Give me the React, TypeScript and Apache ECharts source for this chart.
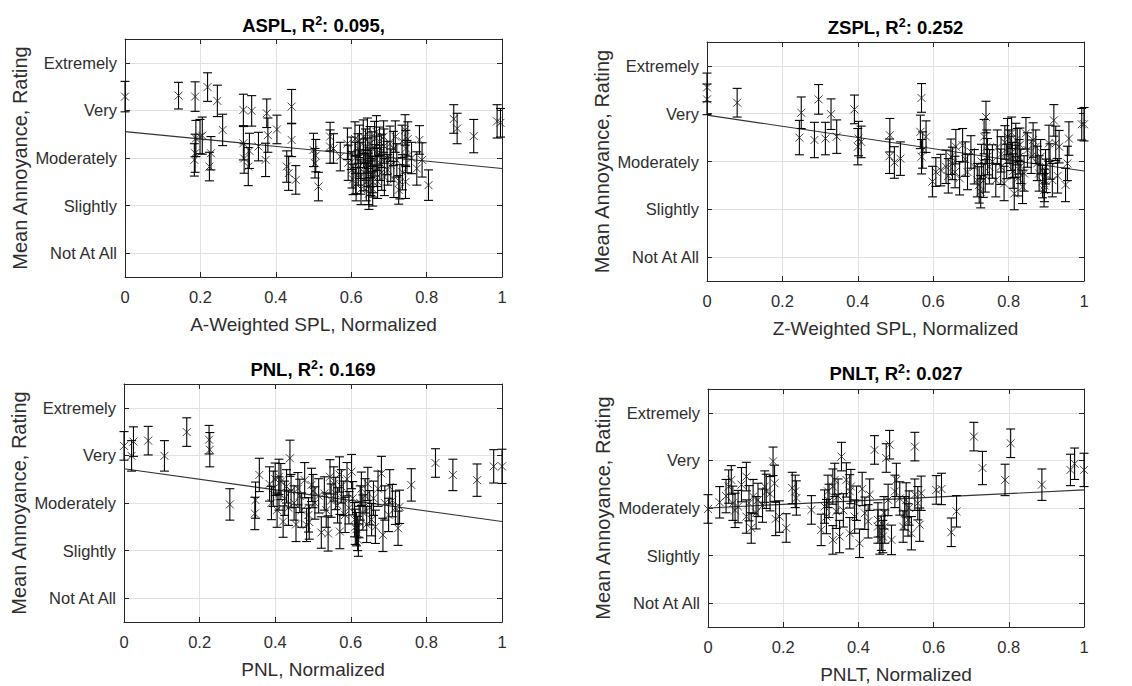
import React, { useEffect, useRef } from 'react';
import * as echarts from 'echarts';

const ratingValues = [1, 2, 3, 4, 5];
const ratingLabels = ['Not At All', 'Slightly', 'Moderately', 'Very', 'Extremely'];
const panelNames = ['ASPL', 'ZSPL', 'PNL', 'PNLT'];
const panelR2 = ['0.095,', '0.252', '0.169', '0.027'];
const xAxisNames = ['A-Weighted SPL, Normalized', 'Z-Weighted SPL, Normalized', 'PNL, Normalized', 'PNLT, Normalized'];
const yAxisName = 'Mean Annoyance, Rating';

// fitted line values at x = 0 and x = 1
const asplFit = [3.555, 2.78];
const zsplFit = [3.97, 2.8];
const pnlFit = [3.72, 2.61];
const pnltFit = [3.0, 3.38];

// [normalized metric, mean annoyance, error half-width]
const asplData = [
  [0, 4.29, 0.32], [0.142, 4.31, 0.28], [0.186, 4.29, 0.31], [0.219, 4.49, 0.3], [0.245, 4.2, 0.33],
  [0.188, 3.41, 0.38], [0.186, 3.1, 0.4], [0.184, 2.96, 0.34], [0.199, 3.45, 0.36], [0.205, 3.47, 0.39],
  [0.224, 2.82, 0.3], [0.228, 3.1, 0.35], [0.259, 3.59, 0.33], [0.314, 4.01, 0.33], [0.336, 3.99, 0.32],
  [0.376, 3.94, 0.3], [0.379, 3.48, 0.36], [0.314, 3.31, 0.35], [0.316, 2.99, 0.31], [0.327, 2.82, 0.4],
  [0.33, 3.15, 0.37], [0.354, 3.24, 0.3], [0.373, 2.96, 0.35], [0.403, 3.6, 0.3], [0.442, 4.08, 0.36],
  [0.442, 3.38, 0.35], [0.429, 2.82, 0.33], [0.434, 2.68, 0.36], [0.453, 2.54, 0.3], [0.5, 3.17, 0.35],
  [0.504, 2.89, 0.31], [0.506, 3.05, 0.34], [0.513, 2.4, 0.3], [0.544, 3.45, 0.3], [0.544, 3.24, 0.35],
  [0.553, 3.2, 0.31], [0.571, 3.03, 0.3], [0.59, 3.3, 0.33], [0.592, 2.9, 0.37], [0.6, 3.1, 0.34],
  [0.602, 2.75, 0.38], [0.605, 2.55, 0.32], [0.61, 3.4, 0.36], [0.611, 3.0, 0.33], [0.612, 2.65, 0.4],
  [0.613, 2.45, 0.35], [0.618, 3.2, 0.31], [0.619, 2.8, 0.37], [0.622, 3.35, 0.34], [0.624, 2.95, 0.38],
  [0.625, 2.6, 0.36], [0.626, 2.35, 0.33], [0.632, 3.45, 0.35], [0.633, 3.1, 0.3], [0.634, 2.7, 0.39],
  [0.638, 3.25, 0.36], [0.639, 2.85, 0.32], [0.64, 2.5, 0.4], [0.643, 3.5, 0.34], [0.644, 3.05, 0.37],
  [0.645, 2.75, 0.35], [0.646, 2.4, 0.38], [0.647, 2.25, 0.33], [0.65, 3.3, 0.36], [0.651, 2.9, 0.31],
  [0.652, 2.6, 0.39], [0.655, 3.2, 0.35], [0.656, 2.65, 0.38], [0.657, 2.35, 0.36], [0.658, 2.5, 0.32],
  [0.662, 3.4, 0.37], [0.663, 2.95, 0.33], [0.667, 3.55, 0.34], [0.668, 3.1, 0.36], [0.669, 2.8, 0.4],
  [0.67, 2.5, 0.35], [0.675, 3.35, 0.3], [0.676, 2.9, 0.37], [0.68, 3.15, 0.35], [0.681, 2.7, 0.38],
  [0.686, 3.45, 0.33], [0.687, 3.25, 0.36], [0.688, 2.6, 0.39], [0.695, 3.0, 0.35], [0.697, 2.75, 0.32],
  [0.703, 3.3, 0.37], [0.705, 2.85, 0.34], [0.712, 3.2, 0.36], [0.713, 2.55, 0.38], [0.717, 3.45, 0.33],
  [0.721, 2.95, 0.35], [0.726, 2.33, 0.3], [0.729, 2.5, 0.36], [0.735, 3.35, 0.34], [0.736, 2.7, 0.37],
  [0.743, 3.59, 0.32], [0.744, 2.5, 0.35], [0.745, 3.2, 0.38], [0.748, 3.03, 0.34], [0.75, 3.4, 0.36],
  [0.76, 3.0, 0.33], [0.774, 2.78, 0.35], [0.781, 3.38, 0.3], [0.788, 2.96, 0.36], [0.805, 2.43, 0.32],
  [0.872, 3.82, 0.3], [0.881, 3.62, 0.32], [0.925, 3.46, 0.35], [0.987, 3.77, 0.35], [0.996, 3.74, 0.3],
];

const zsplData = [
  [0, 4.55, 0.3], [0, 4.3, 0.32], [0.08, 4.23, 0.3], [0.25, 4.02, 0.33], [0.245, 3.5, 0.36],
  [0.296, 4.3, 0.31], [0.285, 3.45, 0.37], [0.329, 3.99, 0.32], [0.314, 3.48, 0.34], [0.344, 3.52, 0.35],
  [0.391, 4.09, 0.3], [0.402, 3.48, 0.36], [0.4, 3.31, 0.38], [0.409, 3.41, 0.33], [0.485, 3.55, 0.35],
  [0.484, 3.11, 0.36], [0.497, 2.98, 0.33], [0.513, 3.06, 0.35], [0.569, 4.33, 0.3], [0.566, 3.62, 0.35],
  [0.581, 3.52, 0.33], [0.569, 3.1, 0.36], [0.572, 3.24, 0.38], [0.598, 2.58, 0.32], [0.607, 2.78, 0.3],
  [0.62, 2.82, 0.33], [0.634, 2.89, 0.35], [0.647, 3.1, 0.37], [0.651, 2.96, 0.34], [0.66, 3.31, 0.36],
  [0.658, 2.78, 0.33], [0.678, 3.34, 0.35], [0.691, 2.78, 0.37], [0.709, 2.89, 0.36], [0.722, 2.51, 0.38],
  [0.726, 2.37, 0.34], [0.717, 2.61, 0.35], [0.735, 3.52, 0.36], [0.74, 3.93, 0.33], [0.744, 3.1, 0.38],
  [0.742, 3.31, 0.35], [0.749, 2.89, 0.36], [0.738, 2.7, 0.34], [0.766, 2.61, 0.35], [0.779, 2.89, 0.37],
  [0.788, 2.54, 0.36], [0.797, 3.52, 0.38], [0.801, 3.31, 0.35], [0.806, 3.17, 0.36], [0.81, 3.03, 0.37],
  [0.815, 2.33, 0.34], [0.819, 3.45, 0.35], [0.823, 3.31, 0.38], [0.828, 3.1, 0.36], [0.837, 2.47, 0.35],
  [0.846, 3.59, 0.33], [0.85, 3.24, 0.36], [0.841, 2.75, 0.37], [0.79, 3.4, 0.35], [0.795, 3.0, 0.36],
  [0.808, 3.6, 0.33], [0.812, 2.8, 0.36], [0.818, 3.0, 0.34], [0.825, 2.65, 0.37], [0.83, 3.35, 0.35],
  [0.832, 2.9, 0.36], [0.78, 3.15, 0.37], [0.77, 3.3, 0.36], [0.757, 3.0, 0.35], [0.685, 3.05, 0.36],
  [0.67, 2.65, 0.35], [0.64, 2.7, 0.36], [0.7, 3.2, 0.34], [0.728, 3.0, 0.36], [0.733, 2.6, 0.35],
  [0.872, 3.31, 0.35], [0.876, 2.96, 0.36], [0.881, 2.75, 0.37], [0.89, 2.58, 0.34], [0.894, 2.4, 0.35],
  [0.898, 2.89, 0.36], [0.907, 3.38, 0.38], [0.916, 2.61, 0.35], [0.92, 3.86, 0.33], [0.925, 3.38, 0.36],
  [0.934, 3.31, 0.34], [0.951, 2.51, 0.35], [0.956, 2.96, 0.36], [0.96, 3.48, 0.35], [0.994, 3.78, 0.33],
  [1.0, 3.78, 0.35], [0.885, 3.1, 0.36], [0.895, 2.5, 0.34], [0.9, 2.7, 0.35], [0.91, 3.0, 0.37],
  [0.93, 2.7, 0.36], [0.86, 3.1, 0.35], [0.865, 3.45, 0.36],
];

const pnlData = [
  [0, 4.2, 0.3], [0.02, 3.99, 0.32], [0.025, 4.29, 0.31], [0.064, 4.31, 0.3], [0.107, 3.99, 0.32],
  [0.166, 4.49, 0.3], [0.225, 4.33, 0.3], [0.227, 4.12, 0.36], [0.28, 2.97, 0.33], [0.348, 3.06, 0.38],
  [0.346, 2.78, 0.34], [0.358, 3.59, 0.35], [0.385, 3.4, 0.36], [0.39, 3.0, 0.35], [0.395, 3.3, 0.37],
  [0.4, 3.5, 0.34], [0.405, 2.85, 0.36], [0.41, 3.2, 0.35], [0.415, 3.45, 0.38], [0.421, 2.61, 0.33],
  [0.425, 3.1, 0.36], [0.43, 3.35, 0.35], [0.435, 2.9, 0.37], [0.439, 3.94, 0.38], [0.442, 3.25, 0.35],
  [0.45, 3.0, 0.36], [0.46, 3.3, 0.34], [0.47, 2.85, 0.36], [0.478, 3.48, 0.37], [0.483, 2.54, 0.35],
  [0.488, 2.75, 0.36], [0.496, 3.38, 0.35], [0.505, 3.0, 0.34], [0.515, 3.15, 0.36], [0.522, 2.38, 0.33],
  [0.53, 3.2, 0.35], [0.535, 2.85, 0.36], [0.54, 2.36, 0.37], [0.548, 3.05, 0.35], [0.555, 3.4, 0.36],
  [0.56, 3.2, 0.34], [0.565, 2.95, 0.37], [0.571, 2.4, 0.36], [0.575, 3.35, 0.35], [0.58, 3.1, 0.36],
  [0.585, 2.75, 0.37], [0.59, 3.5, 0.35], [0.595, 2.9, 0.34], [0.602, 3.66, 0.36], [0.605, 3.1, 0.35],
  [0.61, 2.65, 0.36], [0.612, 2.5, 0.37], [0.615, 2.45, 0.35], [0.618, 2.36, 0.36], [0.62, 2.22, 0.34],
  [0.622, 2.6, 0.33], [0.625, 3.0, 0.36], [0.628, 3.3, 0.35], [0.632, 2.8, 0.37], [0.638, 3.15, 0.36],
  [0.642, 2.55, 0.38], [0.645, 3.4, 0.35], [0.65, 2.9, 0.36], [0.655, 2.65, 0.34], [0.66, 3.1, 0.36],
  [0.665, 2.5, 0.35], [0.672, 3.3, 0.37], [0.681, 3.62, 0.36], [0.685, 2.33, 0.35], [0.69, 3.0, 0.36],
  [0.7, 2.75, 0.35], [0.703, 3.34, 0.36], [0.71, 3.05, 0.34], [0.718, 2.9, 0.35], [0.725, 2.47, 0.36],
  [0.729, 2.92, 0.35], [0.76, 3.38, 0.34], [0.41, 3.55, 0.37], [0.455, 2.55, 0.36], [0.465, 3.15, 0.35],
  [0.49, 2.6, 0.36], [0.5, 3.25, 0.35], [0.545, 3.55, 0.36], [0.57, 3.6, 0.37], [0.824, 3.84, 0.3],
  [0.87, 3.59, 0.33], [0.934, 3.48, 0.34], [0.978, 3.77, 0.35], [1.0, 3.77, 0.36],
];

const pnltData = [
  [0, 2.98, 0.3], [0.031, 3.12, 0.33], [0.055, 3.45, 0.35], [0.062, 3.59, 0.3], [0.066, 3.1, 0.36],
  [0.08, 3.03, 0.34], [0.089, 3.49, 0.36], [0.102, 3.66, 0.3], [0.102, 2.82, 0.35], [0.109, 3.1, 0.37],
  [0.115, 2.58, 0.32], [0.12, 3.24, 0.36], [0.133, 3.17, 0.35], [0.151, 3.45, 0.33], [0.155, 3.35, 0.36],
  [0.173, 3.98, 0.3], [0.177, 3.52, 0.38], [0.18, 2.77, 0.35], [0.19, 2.82, 0.33], [0.208, 2.58, 0.3],
  [0.224, 3.42, 0.33], [0.235, 3.21, 0.36], [0.232, 3.35, 0.34], [0.275, 2.96, 0.3], [0.301, 2.54, 0.33],
  [0.31, 3.03, 0.35], [0.315, 2.82, 0.36], [0.319, 3.35, 0.34], [0.332, 3.45, 0.37], [0.337, 3.59, 0.35],
  [0.332, 2.33, 0.3], [0.341, 2.93, 0.36], [0.35, 2.4, 0.34], [0.355, 4.08, 0.3], [0.368, 3.59, 0.36],
  [0.377, 3.35, 0.35], [0.377, 2.47, 0.33], [0.38, 3.45, 0.36], [0.39, 2.82, 0.35], [0.403, 2.26, 0.3],
  [0.417, 2.89, 0.34], [0.426, 2.72, 0.35], [0.43, 3.28, 0.33], [0.443, 4.22, 0.3], [0.452, 2.61, 0.35],
  [0.457, 2.33, 0.3], [0.461, 2.47, 0.36], [0.465, 2.4, 0.34], [0.47, 2.61, 0.35], [0.474, 4.05, 0.3],
  [0.479, 3.17, 0.33], [0.483, 4.33, 0.3], [0.488, 2.33, 0.31], [0.501, 3.59, 0.35], [0.497, 3.35, 0.34],
  [0.519, 2.61, 0.33], [0.523, 2.89, 0.35], [0.527, 3.17, 0.36], [0.532, 2.75, 0.34], [0.541, 2.47, 0.35],
  [0.55, 4.29, 0.3], [0.55, 3.28, 0.33], [0.563, 2.65, 0.35], [0.567, 3.31, 0.36], [0.607, 3.38, 0.3],
  [0.621, 3.4, 0.33], [0.647, 2.49, 0.3], [0.661, 2.93, 0.33], [0.048, 3.25, 0.35], [0.072, 2.95, 0.36],
  [0.128, 2.9, 0.34], [0.145, 3.05, 0.35], [0.165, 3.3, 0.36], [0.322, 3.15, 0.35], [0.346, 3.25, 0.36],
  [0.36, 2.95, 0.35], [0.395, 3.1, 0.36], [0.41, 3.4, 0.35], [0.452, 2.75, 0.36], [0.468, 2.9, 0.34],
  [0.51, 3.2, 0.35], [0.535, 3.0, 0.36], [0.558, 3.1, 0.35], [0.707, 4.5, 0.3], [0.73, 3.84, 0.35],
  [0.79, 3.59, 0.33], [0.805, 4.36, 0.3], [0.888, 3.49, 0.33], [0.964, 3.8, 0.33], [0.975, 3.93, 0.33],
  [1.0, 3.8, 0.35],
];

const panelData = [asplData, zsplData, pnlData, pnltData];
const panelFits = [asplFit, zsplFit, pnlFit, pnltFit];

const FONT = '"Liberation Sans", Arial, Helvetica, sans-serif';
const AXIS_COLOR = '#262626';
const TEXT_COLOR = '#2e2e2e';
const GRID_COLOR = '#e2e2e2';
const MARK_COLOR = '#000000';

const gridBoxes = [
  { left: 125, top: 39, width: 377, height: 238 },
  { left: 707, top: 42, width: 377, height: 239 },
  { left: 124, top: 384, width: 378, height: 238 },
  { left: 708, top: 389, width: 376, height: 238 },
];
const titleY = [25, 27, 369, 373];

function buildOption() {
  const grid: any[] = [];
  const xAxis: any[] = [];
  const yAxis: any[] = [];
  const series: any[] = [];
  const graphic: any[] = [];

  gridBoxes.forEach((g, i) => {
    grid.push({ ...g, containLabel: false });
    xAxis.push({
      type: 'value', gridIndex: i, min: 0, max: 1, interval: 0.2, position: 'bottom',
      name: xAxisNames[i], nameLocation: 'middle', nameGap: 38,
      nameTextStyle: { fontFamily: FONT, fontSize: 19, color: TEXT_COLOR },
      axisLine: { show: true, onZero: false, lineStyle: { color: AXIS_COLOR, width: 1 } },
      axisTick: { show: true, inside: true, length: 5, lineStyle: { color: AXIS_COLOR } },
      axisLabel: { show: true, margin: 11, fontFamily: FONT, fontSize: 16.5, color: TEXT_COLOR },
      splitLine: { show: true, lineStyle: { color: GRID_COLOR, width: 1 } },
    });
    xAxis.push({
      type: 'value', gridIndex: i, min: 0, max: 1, interval: 0.2, position: 'top',
      axisLine: { show: true, onZero: false, lineStyle: { color: AXIS_COLOR, width: 1 } },
      axisTick: { show: true, inside: true, length: 5, lineStyle: { color: AXIS_COLOR } },
      axisLabel: { show: false },
      splitLine: { show: false },
    });
    const labelFormatter = (v: number) => {
      const k = ratingValues.indexOf(Math.round(v * 1000) / 1000);
      return k >= 0 ? ratingLabels[k] : '';
    };
    yAxis.push({
      type: 'value', gridIndex: i, min: 0.5, max: 5.5, splitNumber: 5, position: 'left',
      name: yAxisName, nameLocation: 'middle', nameGap: 95, nameRotate: 90,
      nameTextStyle: { fontFamily: FONT, fontSize: 20, color: TEXT_COLOR },
      axisLine: { show: true, onZero: false, lineStyle: { color: AXIS_COLOR, width: 1 } },
      axisTick: { show: true, inside: true, length: 5, lineStyle: { color: AXIS_COLOR } },
      axisLabel: { show: true, margin: 8, fontFamily: FONT, fontSize: 16.5, color: TEXT_COLOR, formatter: labelFormatter },
      splitLine: { show: true, lineStyle: { color: GRID_COLOR, width: 1 } },
    });
    yAxis.push({
      type: 'value', gridIndex: i, min: 0.5, max: 5.5, splitNumber: 5, position: 'right',
      axisLine: { show: true, onZero: false, lineStyle: { color: AXIS_COLOR, width: 1 } },
      axisTick: { show: true, inside: true, length: 5, lineStyle: { color: AXIS_COLOR } },
      axisLabel: { show: false },
      splitLine: { show: false },
    });

    const fit = panelFits[i];
    series.push({
      type: 'line', xAxisIndex: 2 * i, yAxisIndex: 2 * i,
      data: [[0, fit[0]], [1, fit[1]]],
      showSymbol: false, symbol: 'none', silent: true, z: 3,
      lineStyle: { color: '#333333', width: 1.1 },
    });
    series.push({
      type: 'custom', xAxisIndex: 2 * i, yAxisIndex: 2 * i,
      data: panelData[i], encode: { x: 0, y: 1 }, silent: true, z: 4,
      renderItem: (params: any, api: any) => {
        const x = api.value(0);
        const y = api.value(1);
        const e = api.value(2);
        const top = api.coord([x, y + e]);
        const bot = api.coord([x, y - e]);
        const cap = 4.5;
        const style = { stroke: MARK_COLOR, lineWidth: 1.1, fill: null };
        return {
          type: 'group',
          children: [
            { type: 'line', shape: { x1: top[0], y1: top[1], x2: bot[0], y2: bot[1] }, style },
            { type: 'line', shape: { x1: top[0] - cap, y1: top[1], x2: top[0] + cap, y2: top[1] }, style },
            { type: 'line', shape: { x1: bot[0] - cap, y1: bot[1], x2: bot[0] + cap, y2: bot[1] }, style },
          ],
        };
      },
    });
    series.push({
      type: 'scatter', xAxisIndex: 2 * i, yAxisIndex: 2 * i,
      data: panelData[i].map((d) => [d[0], d[1]]),
      symbol: 'path://M0 0L10 10M10 0L0 10', symbolSize: 8, silent: true, z: 5,
      itemStyle: { color: 'none', borderColor: '#1a1a1a', borderWidth: 1 },
    });

    graphic.push({
      type: 'text', x: g.left + g.width / 2, y: titleY[i],
      style: {
        text: `{b|${panelNames[i]}, R}{s|2}{b|: ${panelR2[i]}}`,
        align: 'center', verticalAlign: 'middle',
        rich: {
          b: { fontFamily: FONT, fontSize: 18.5, fontWeight: 'bold', fill: '#000', lineHeight: 22 },
          s: { fontFamily: FONT, fontSize: 12.5, fontWeight: 'bold', fill: '#000', lineHeight: 22, verticalAlign: 'top' },
        },
      },
    });
  });

  return { animation: false, backgroundColor: '#fff', grid, xAxis, yAxis, series, graphic };
}

export default function App() {
  const ref = useRef<HTMLDivElement>(null);
  useEffect(() => {
    if (!ref.current) return;
    const chart = echarts.init(ref.current, undefined, { renderer: 'svg' });
    chart.setOption(buildOption() as any);
    return () => chart.dispose();
  }, []);
  return (
    <div
      ref={ref}
      style={{ position: 'absolute', left: 0, top: 0, width: 1132, height: 686, background: '#fff' }}
    />
  );
}
